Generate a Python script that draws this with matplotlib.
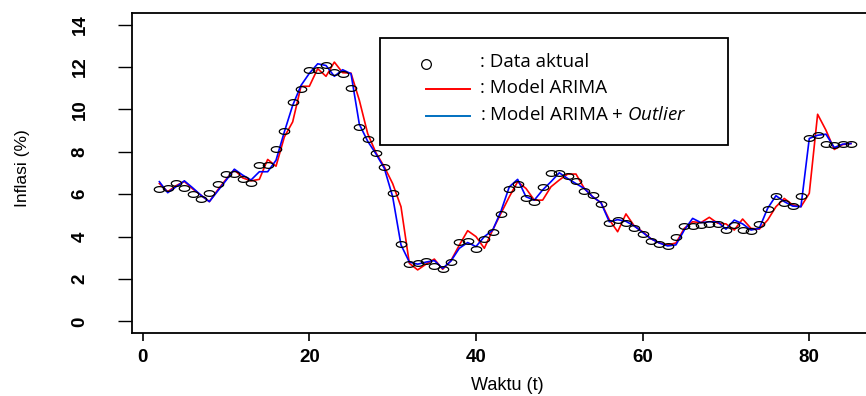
import matplotlib
matplotlib.use("Agg")
import matplotlib.pyplot as plt
from matplotlib.path import Path
from matplotlib.lines import Line2D
from matplotlib.patches import Rectangle
import numpy as np

plt.rcParams['mathtext.fontset'] = 'custom'
plt.rcParams['mathtext.rm'] = 'Open Sans'
plt.rcParams['mathtext.it'] = 'Open Sans:italic'

# waktu t = 2..85
waktu = list(range(2, 86))

data_aktual = [6.24, 6.30, 6.54, 6.30, 6.00, 5.77, 6.07, 6.48, 6.93, 6.93,
               6.70, 6.54, 7.37, 7.37, 8.15, 8.97, 10.35, 10.98, 11.87, 11.87,
               12.10, 11.76, 11.68, 11.03, 9.17, 8.60, 7.92, 7.29, 6.07, 3.67,
               2.73, 2.76, 2.85, 2.62, 2.45, 2.78, 3.76, 3.81, 3.42, 3.90,
               4.20, 5.07, 6.23, 6.48, 5.80, 5.64, 6.35, 6.98, 7.01, 6.85,
               6.63, 6.16, 5.96, 5.54, 4.63, 4.80, 4.66, 4.42, 4.13, 3.81,
               3.65, 3.56, 3.97, 4.50, 4.50, 4.55, 4.60, 4.60, 4.31, 4.55,
               4.31, 4.28, 4.60, 5.29, 5.91, 5.57, 5.44, 5.91, 8.63, 8.78,
               8.39, 8.31, 8.36, 8.36]

model_arima = [6.50, 6.12, 6.40, 6.60, 6.25, 5.95, 5.65, 6.20, 6.70, 7.15,
               6.77, 6.63, 6.70, 7.64, 7.32, 8.70, 9.41, 11.09, 11.09, 11.92,
               11.56, 12.23, 11.73, 11.71, 10.43, 8.86, 7.95, 7.29, 6.50, 5.41,
               2.74, 2.43, 2.70, 2.94, 2.46, 2.87, 3.60, 4.28, 4.00, 3.45,
               4.31, 5.10, 5.88, 6.59, 6.27, 5.72, 5.72, 6.35, 6.67, 6.95,
               6.95, 6.27, 5.88, 5.60, 4.80, 4.23, 5.07, 4.50, 4.23, 3.90,
               3.70, 3.61, 3.70, 4.39, 4.70, 4.66, 4.91, 4.63, 4.60, 4.31,
               4.83, 4.39, 4.35, 4.78, 5.41, 5.80, 5.50, 5.41, 6.04, 9.77,
               9.02, 8.11, 8.34, 8.39]

model_outlier = [6.59, 6.07, 6.35, 6.63, 6.30, 5.95, 5.65, 6.15, 6.65, 7.18,
                 6.90, 6.67, 7.06, 7.06, 7.60, 8.94, 10.19, 11.13, 11.70, 12.15,
                 12.07, 11.56, 11.87, 11.68, 9.30, 8.50, 7.90, 7.22, 5.88, 3.61,
                 2.80, 2.70, 2.80, 2.87, 2.50, 2.85, 3.45, 3.72, 3.53, 4.00,
                 4.30, 5.20, 6.35, 6.70, 5.88, 5.72, 6.20, 6.59, 7.01, 6.74,
                 6.50, 6.27, 5.88, 5.60, 4.70, 4.80, 4.72, 4.50, 4.20, 3.90,
                 3.70, 3.56, 3.61, 4.31, 4.86, 4.66, 4.70, 4.70, 4.35, 4.78,
                 4.60, 4.31, 4.39, 5.33, 5.93, 5.65, 5.44, 5.41, 8.63, 8.78,
                 8.83, 8.20, 8.36, 8.39]

x_ticks = [0, 20, 40, 60, 80]
y_ticks = [0, 2, 4, 6, 8, 10, 12, 14]

W, H = 866, 396


def fx(px):
    return px / W


def fy(py):
    return 1 - py / H


# flattened circle, the original picture was stretched sideways
theta = np.linspace(0, 2 * np.pi, 40)
ellipse = Path(np.column_stack([np.cos(theta), 0.55 * np.sin(theta)]), closed=True)

fig = plt.figure(figsize=(W / 100, H / 100), dpi=100)
ax = fig.add_axes([fx(131.7), fy(333.3), fx(878.6) - fx(131.7), fy(12.7) - fy(333.3)])

ax.plot(waktu, model_arima, color='#ff0000', lw=1.2, zorder=2)
ax.plot(waktu, model_outlier, color='#0000ff', lw=1.2, zorder=3)
ax.plot(waktu, data_aktual, ls='none', marker=ellipse, ms=7.5, mfc='none',
        mec='black', mew=0.9, zorder=4)

ax.set_xlim(-1.32, 88.32)
ax.set_ylim(-0.56, 14.56)
ax.set_xticks(x_ticks)
ax.set_yticks(y_ticks)
ax.set_xticklabels([str(v) for v in x_ticks], family='Liberation Sans',
                   fontweight='bold', fontsize=13.5)
ax.set_yticklabels([str(v) for v in y_ticks], family=['Liberation Sans Narrow', 'Liberation Sans'],
                   fontweight='bold', fontsize=13.5, rotation=90, va='center', ha='right')
ax.tick_params(axis='x', length=6, width=1.2, pad=5)
ax.tick_params(axis='y', length=10, width=1.0, pad=21)
for sp in ax.spines.values():
    sp.set_linewidth(1.3)

fig.text(fx(23), fy(168), 'Inflasi (%)', rotation=90, ha='center', va='center',
         family=['Liberation Sans Narrow', 'Liberation Sans'], fontsize=12.5)
fig.text(fx(507), fy(386), 'Waktu (t)', ha='center', va='center',
         family='Liberation Sans', fontsize=13)

# legend drawn by hand to keep the original layout
fig.add_artist(Rectangle((fx(380), fy(145)), fx(728) - fx(380), fy(38) - fy(145),
                         transform=fig.transFigure, fill=True, facecolor='white',
                         edgecolor='black', lw=1.3, zorder=5))
fig.add_artist(Line2D([fx(426)], [fy(64)], transform=fig.transFigure, ls='none',
                      marker='o', ms=7, mfc='none', mec='black', mew=0.9, zorder=6))
fig.add_artist(Line2D([fx(426), fx(470)], [fy(89)], transform=fig.transFigure,
                      color='#ff0000', lw=1.4, zorder=6))
fig.add_artist(Line2D([fx(426), fx(470)], [fy(116)], transform=fig.transFigure,
                      color='#0070c0', lw=1.4, zorder=6))
leg_font = dict(family='Open Sans', fontsize=13.5, ha='left', va='center', zorder=6)
fig.text(fx(480), fy(62), ': Data aktual', **leg_font)
fig.text(fx(480), fy(88), ': Model ARIMA', **leg_font)
fig.text(fx(480), fy(115), ': Model ARIMA + $\\mathit{Outlier}$', **leg_font)

fig.savefig('out.png', dpi=100)
